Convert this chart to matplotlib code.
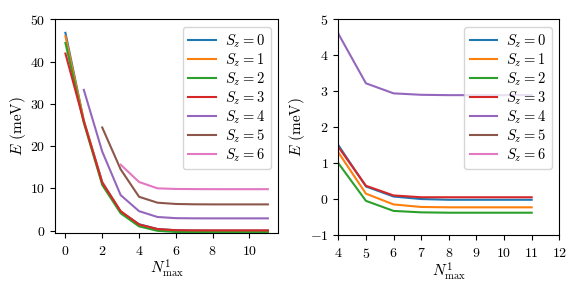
import matplotlib
matplotlib.use("Agg")
import matplotlib.pyplot as plt

plt.rcParams['font.family'] = 'serif'
plt.rcParams['font.serif'] = ['cmr10']
plt.rcParams['mathtext.fontset'] = 'cm'
plt.rcParams['axes.formatter.use_mathtext'] = True
plt.rcParams['font.size'] = 10

# N_max^1 values at which each S_z series starts (all go up to 11)
starts = [0, 0, 0, 0, 1, 2, 3]
labels = [r'$S_z = %d$' % i for i in range(7)]

e_sz0 = [46.8, 26.0, 11.5, 4.5, 1.5, 0.35, 0.07, 0.0, -0.02, -0.02, -0.02, -0.02]
e_sz1 = [46.0, 26.0, 11.3, 4.4, 1.3, 0.15, -0.15, -0.22, -0.23, -0.23, -0.23, -0.23]
e_sz2 = [44.4, 25.5, 10.8, 4.1, 1.0, -0.05, -0.33, -0.37, -0.38, -0.38, -0.38, -0.38]
e_sz3 = [41.9, 25.8, 11.3, 4.6, 1.45, 0.37, 0.1, 0.05, 0.05, 0.05, 0.05, 0.05]
e_sz4 = [33.3, 18.7, 8.4, 4.6, 3.22, 2.94, 2.9, 2.89, 2.89, 2.89, 2.89]
e_sz5 = [24.4, 14.5, 8.0, 6.6, 6.3, 6.22, 6.2, 6.2, 6.2, 6.2]
e_sz6 = [15.6, 11.5, 10.0, 9.85, 9.82, 9.8, 9.8, 9.8, 9.8]

series = [e_sz0, e_sz1, e_sz2, e_sz3, e_sz4, e_sz5, e_sz6]

fig = plt.figure(figsize=(5.81, 2.91), dpi=100)
ax1 = fig.add_axes([55.3 / 581, (291 - 232.7) / 291, (278 - 55.3) / 581, (232.7 - 19.3) / 291])
ax2 = fig.add_axes([338.3 / 581, (291 - 235) / 291, (559.3 - 338.3) / 581, (235 - 19.3) / 291])

for ax in (ax1, ax2):
    for s, vals, lab in zip(starts, series, labels):
        xs = list(range(s, s + len(vals)))
        ax.plot(xs, vals, label=lab)
    ax.set_xlabel(r'$N^1_{\rm max}$', fontsize=11, labelpad=0)
    ax.set_ylabel(r'$E$ (meV)', fontsize=11, labelpad=2)
    ax.tick_params(axis='x', pad=5)
    ax.legend(loc='upper right', fontsize=10.5, labelspacing=0.1,
              handlelength=1.9, handletextpad=0.6)

ax1.set_xlim(-0.55, 11.55)
ax1.set_ylim(-0.5, 50)
ax1.set_xticks([0, 2, 4, 6, 8, 10])

ax2.set_xlim(4, 12)
ax2.set_ylim(-1, 5)
ax2.set_xticks(range(4, 13))

fig.savefig('out.png', dpi=100)
